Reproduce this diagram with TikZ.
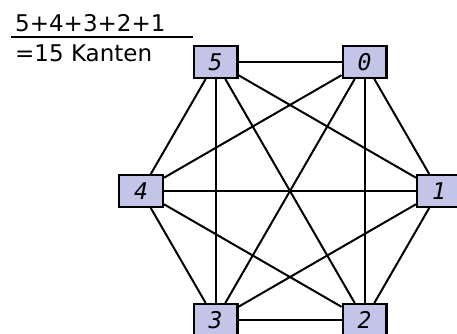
\documentclass[tikz,border=0pt]{standalone}
\usepackage{fontspec}
\setmainfont{DejaVu Sans}
\newfontfamily\nodefont{DejaVu Sans Mono}
\usetikzlibrary{calc}
\definecolor{nodefill}{RGB}{196,196,232}
\tikzset{
    vertex/.style={draw=black,line width=2.4pt,fill=nodefill,minimum width=43.6pt,minimum height=31.6pt,inner sep=0pt,font=\nodefont\itshape\fontsize{23}{27}\selectfont},
    edge/.style={line width=2pt}
}

\begin{document}
\begin{tikzpicture}
            \useasboundingbox (0,0) rectangle (457pt,334pt);
            \coordinate (mid) at (290pt,143pt);
            \foreach \i in {0,...,5}{
                \node[vertex] (n\i) at ($(mid)+({60-60*\i}:149pt)$) {\i};
            }
            \foreach \i in {0,...,4}{
                \pgfmathtruncatemacro\k{\i+1}
                \foreach \j in {\k,...,5}{
                    \draw[edge] (n\i)--(n\j);
                }
            }
            \node (sum) at (15pt,302pt)[anchor=base west,inner sep=0pt,font=\fontsize{23}{27}\selectfont]{5+4+3+2+1};
            \node (total) at (15pt,272pt)[anchor=base west,inner sep=0pt,font=\fontsize{23}{27}\selectfont]{=15 Kanten};
            \coordinate (barl) at (11pt,297pt);
            \coordinate (barr) at (193pt,297pt);
            \draw[line width=2pt] (barl)--(barr);
        \end{tikzpicture}
\end{document}
